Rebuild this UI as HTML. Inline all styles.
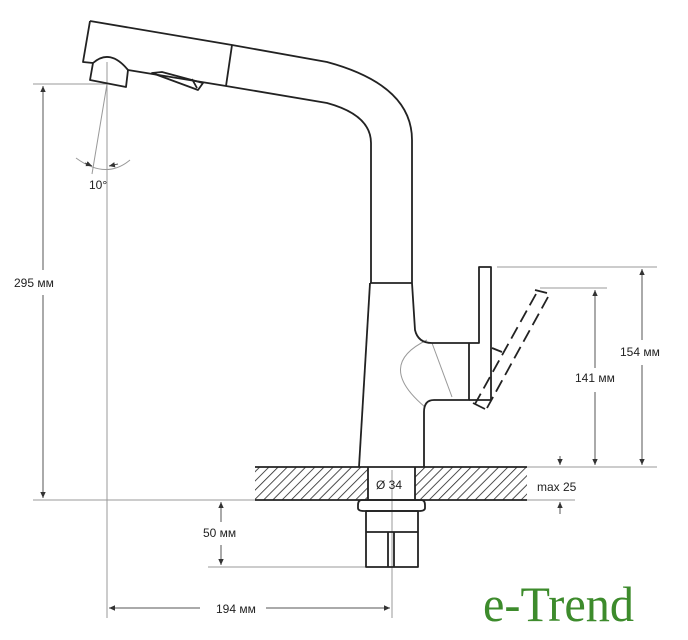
<!DOCTYPE html>
<html><head><meta charset="utf-8"><style>
html,body{margin:0;padding:0;background:#fff;}
svg{display:block;}
text{font-family:"Liberation Sans",sans-serif;fill:#222;}
</style></head><body>
<svg width="688" height="640" viewBox="0 0 688 640" xmlns="http://www.w3.org/2000/svg">
<defs>
<pattern id="h" width="6.5" height="6.5" patternUnits="userSpaceOnUse" patternTransform="rotate(45)">
<line x1="0" y1="0" x2="0" y2="6.5" stroke="#222" stroke-width="1.6"/>
</pattern>
<marker id="a" markerWidth="7" markerHeight="7" refX="6" refY="3.5" orient="auto"><path d="M0,0.8 L6,3.5 L0,6.2z" fill="#333"/></marker>
</defs>
<g stroke="#999" stroke-width="1" fill="none">
<line x1="107" y1="62" x2="107" y2="618"/>
<line x1="392" y1="470" x2="392" y2="618"/>
<line x1="33" y1="84" x2="107" y2="84"/>
<line x1="33" y1="500" x2="255" y2="500"/>
<line x1="527" y1="500" x2="575" y2="500"/>
<line x1="527" y1="467" x2="657" y2="467"/>
<line x1="497" y1="267" x2="657" y2="267"/>
<line x1="540" y1="288" x2="607" y2="288"/>
<line x1="208" y1="567" x2="366" y2="567"/>
<line x1="107" y1="84" x2="92" y2="174"/>
<path d="M76,158 Q106,180 130,160"/>
<path d="M427,340 Q375,365 425,407"/>
<line x1="432" y1="343" x2="452" y2="397"/>
</g>
<g stroke="#555" stroke-width="1" fill="none">
<line x1="43" y1="270" x2="43" y2="86" marker-end="url(#a)"/>
<line x1="43" y1="295" x2="43" y2="498" marker-end="url(#a)"/>
<line x1="221" y1="522" x2="221" y2="502" marker-end="url(#a)"/>
<line x1="221" y1="545" x2="221" y2="565" marker-end="url(#a)"/>
<line x1="200" y1="608" x2="109" y2="608" marker-end="url(#a)"/>
<line x1="266" y1="608" x2="390" y2="608" marker-end="url(#a)"/>
<line x1="642" y1="340" x2="642" y2="269" marker-end="url(#a)"/>
<line x1="642" y1="365" x2="642" y2="465" marker-end="url(#a)"/>
<line x1="595" y1="368" x2="595" y2="290" marker-end="url(#a)"/>
<line x1="595" y1="392" x2="595" y2="465" marker-end="url(#a)"/>
<line x1="560" y1="456" x2="560" y2="465" marker-end="url(#a)"/>
<line x1="560" y1="514" x2="560" y2="502" marker-end="url(#a)"/>
<line x1="85" y1="163" x2="92" y2="166" marker-end="url(#a)"/>
<line x1="118" y1="164" x2="109" y2="166" marker-end="url(#a)"/>
</g>
<rect x="255" y="467" width="113" height="33" fill="url(#h)"/>
<rect x="415" y="467" width="112" height="33" fill="url(#h)"/>
<g stroke="#222" stroke-width="1.8" fill="none" stroke-linejoin="round">
<line x1="255" y1="467" x2="527" y2="467"/>
<line x1="255" y1="500" x2="527" y2="500"/>
<line x1="368" y1="467" x2="368" y2="500"/>
<line x1="415" y1="467" x2="415" y2="500"/>
<path d="M90,21 L232,45 L327,62 Q412,85 412,140 L412,283"/>
<path d="M128,70 L226,86 L327,103 Q371,115 371,143 L371,283"/>
<path d="M90,21 L83,62 L93,63"/>
<path d="M93,63 Q110,48 128,70 L126,87 L90,80 Z"/>
<line x1="232" y1="45" x2="226" y2="86"/>
<path d="M152,73 L162,72 L203,83 L198,90 Z"/>
<line x1="192" y1="79" x2="197" y2="88"/>
<path d="M370,283 L412,283"/>
<path d="M370,283 L359,467"/>
<path d="M412,283 L415,330 Q418,343 432,343 L479,343 L479,267 L491,267 L491,400 L469,400"/>
<path d="M469,343 L469,400 L463,400 L434,400 Q424,400 424,412 L424,467"/>
<path d="M358,505 Q358,500 362,500 L421,500 Q425,500 425,505 L425,508 Q425,511 419,511 L364,511 Q358,511 358,508 Z"/>
<rect x="366" y="511" width="52" height="56"/>
<line x1="366" y1="532" x2="418" y2="532"/>
<line x1="388" y1="532" x2="388" y2="567"/>
<line x1="394" y1="532" x2="394" y2="567"/>
</g>
<g stroke="#222" stroke-width="1.8" fill="none" stroke-dasharray="13,6">
<line x1="536" y1="294" x2="475" y2="404"/>
<line x1="548" y1="297" x2="487" y2="408"/>
<path d="M535,290 L547,293" stroke-dasharray="none"/>
<path d="M473,403 L485,409" stroke-dasharray="none"/>
<line x1="492" y1="348" x2="502" y2="352" stroke-dasharray="none"/>
</g>
<text x="14" y="287" font-size="12">295 мм</text>
<text x="89" y="189" font-size="12">10°</text>
<text x="203" y="537" font-size="12">50 мм</text>
<text x="216" y="613" font-size="12">194 мм</text>
<text x="376" y="489" font-size="12">Ø 34</text>
<text x="537" y="491" font-size="12">max 25</text>
<text x="575" y="382" font-size="12">141 мм</text>
<text x="620" y="356" font-size="12">154 мм</text>
<text x="483" y="621" font-size="50" textLength="151" lengthAdjust="spacingAndGlyphs" style="font-family:'Liberation Serif',serif;fill:#3d8b2c">e-Trend</text>
</svg>
</body></html>
